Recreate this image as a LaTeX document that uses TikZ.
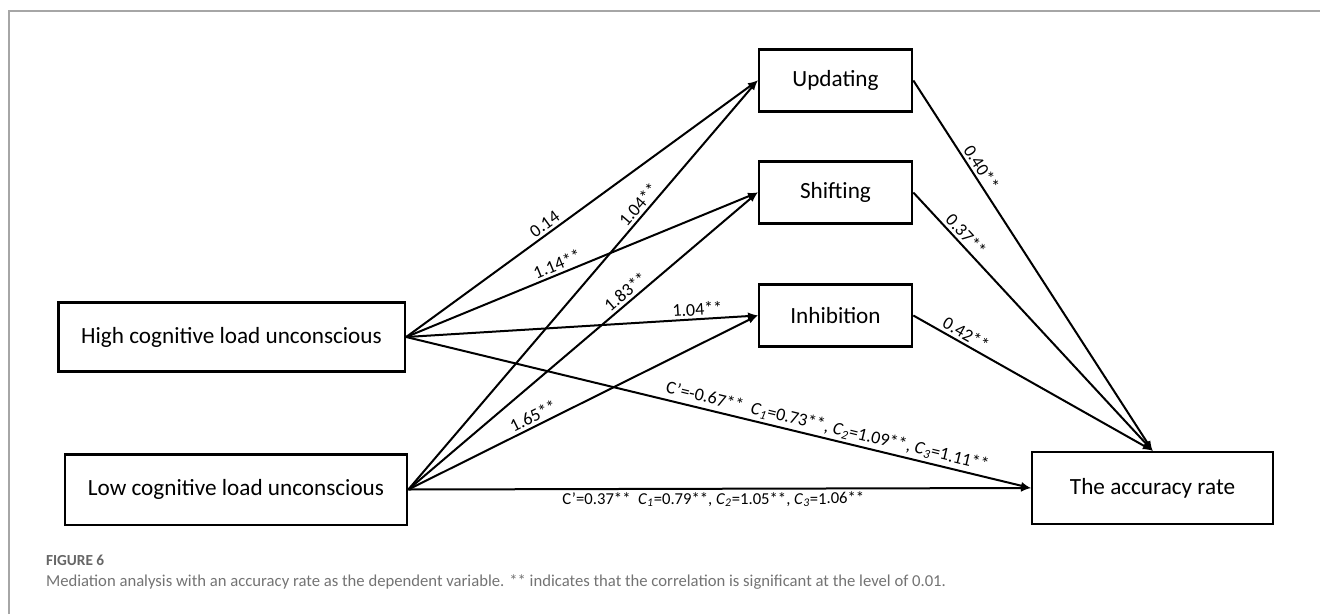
\documentclass[tikz,border=0pt]{standalone}
\usepackage{fontspec}
\setmainfont{Carlito}
\usepackage{xcolor}
\usetikzlibrary{positioning}
\newcommand{\csub}[1]{\textit{C}\textsubscript{\textit{#1}}}

\begin{document}
\begin{tikzpicture}[x=0.75pt, y=-0.75pt, -latex, line width=1.5pt,
  varbox/.style={draw, rectangle, line width=2pt, inner sep=0pt, font=\fontsize{17.4}{20}\selectfont},
  medbox/.style={varbox, minimum width=114.75pt, minimum height=46.5pt},
  coef/.style={font=\fontsize{13.5}{16}\selectfont, sloped, inner sep=2pt}]
		\useasboundingbox (0,0) rectangle (1320,614);
		\draw[-, black!35, line width=1.5pt] (9,614) -- (9,11) -- (1320,11);
		% variables
		\node[varbox, minimum width=260pt, minimum height=52pt] (high) at (231.5,337) {High cognitive load unconscious};
		\node[varbox, minimum width=256.5pt, minimum height=53pt] (low) at (236,489.5) {Low cognitive load unconscious};
		\node[medbox] (upd) at (835.5,80.5) {Updating};
		\node[medbox] (shf) at (835.5,192.5) {Shifting};
		\node[medbox] (inh) at (835.5,315.5) {Inhibition};
		\node[varbox, minimum width=180.75pt, minimum height=54pt] (acc) at (1152.5,488) {The accuracy rate};
		% paths a
		\draw (high.east) -- node[coef, above, pos=0.41] {0.14} (upd.west);
		\draw (low.east) -- node[coef, above, pos=0.68] {1.04**} (upd.west);
		\draw (high.east) -- node[coef, above, pos=0.44] {1.14**} (shf.west);
		\draw (low.east) -- node[coef, above, pos=0.64] {1.83**} (shf.west);
		\draw (high.east) -- node[coef, above, pos=0.83] {1.04**} (inh.west);
		\draw (low.east) -- node[coef, above, pos=0.37] {1.65**} (inh.west);
		% paths b
		\draw (upd.east) -- node[coef, above, pos=0.25] {0.40**} (acc.north);
		\draw (shf.east) -- node[coef, above, pos=0.19] {0.37**} (acc.north);
		\draw (inh.east) -- node[coef, above, pos=0.2] {0.42**} (acc.north);
		% direct paths
		\draw (high.east) -- node[coef, above, pos=0.67] {C'=-0.67**\ \ \csub{1}=0.73**, \csub{2}=1.09**, \csub{3}=1.11**} (acc.west);
		\draw (low.east) -- node[coef, below, pos=0.49, font=\fontsize{12.5}{15}\selectfont] {C'=0.37**\ \ \csub{1}=0.79**, \csub{2}=1.05**, \csub{3}=1.06**} (acc.west);
		% caption
		\node[anchor=base west, inner sep=0pt, text=black!60, font=\fontsize{11.5}{14}\selectfont\bfseries] (fig) at (45,565) {FIGURE 6};
		\node[anchor=base west, inner sep=0pt, text=black!55, font=\fontsize{12.5}{15}\selectfont] (cap) at (45,586) {Mediation analysis with an accuracy rate as the dependent variable. ** indicates that the correlation is significant at the level of 0.01.};
\end{tikzpicture}
\end{document}
